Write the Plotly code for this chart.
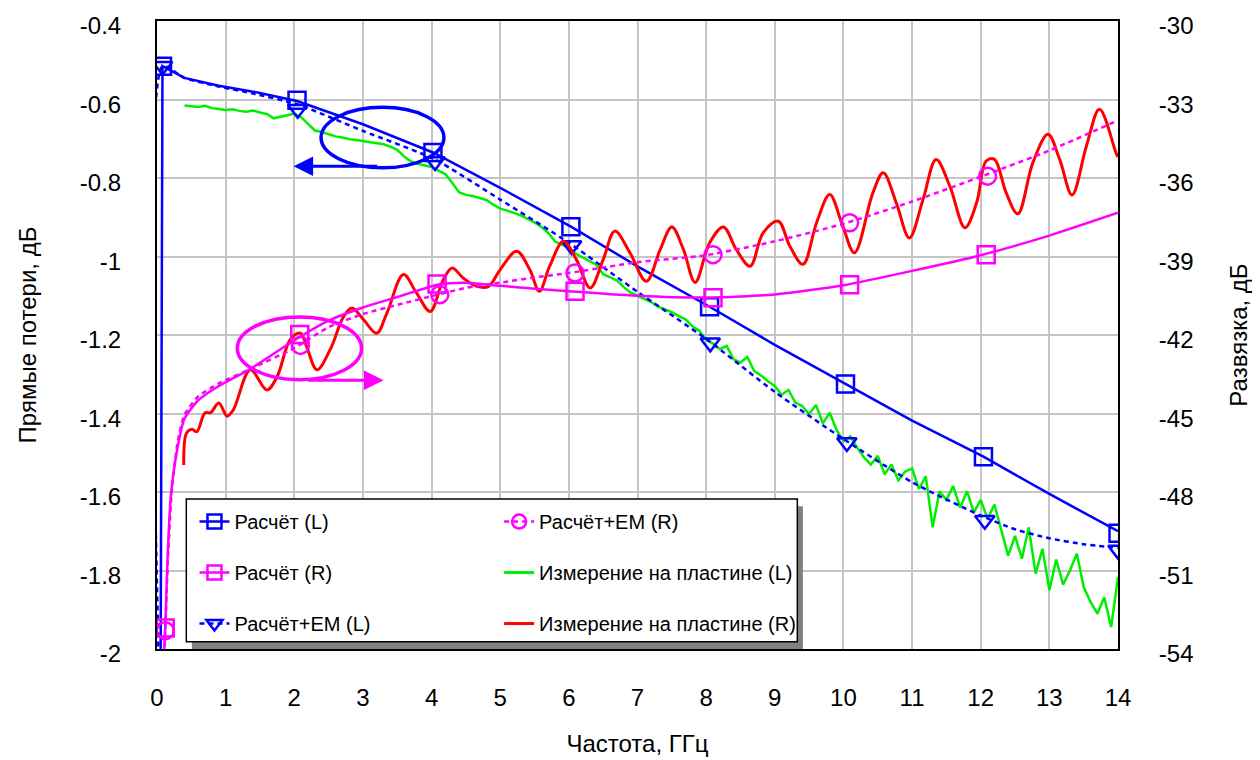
import plotly.graph_objects as go

# ---------------- data ----------------
# Расчёт (L) — left axis, dB
calc_L_x = [0.05, 0.08, 0.4, 0.9, 1.4, 2.04, 3.0, 4.02, 5.0, 6.03, 7.0, 8.05, 9.0, 10.03, 11.0, 12.04, 13.0, 14.0]
calc_L_y = [-2.2, -0.515, -0.545, -0.565, -0.58, -0.604, -0.663, -0.735, -0.825, -0.924, -1.025, -1.128, -1.225, -1.325, -1.418, -1.51, -1.605, -1.70]
calc_L_mx = [0.08, 2.04, 4.02, 6.03, 8.05, 10.03, 12.04, 14.0]
calc_L_my = [-0.515, -0.602, -0.735, -0.924, -1.128, -1.325, -1.51, -1.705]

# Расчёт+EM (L)
em_L_x = [0.05, 0.08, 0.4, 0.9, 1.4, 2.04, 3.0, 4.04, 5.0, 6.0, 7.0, 8.0, 9.0, 10.0, 11.0, 12.0, 12.5, 13.0, 13.5, 14.0]
em_L_y = [-2.2, -0.515, -0.545, -0.567, -0.585, -0.612, -0.68, -0.752, -0.855, -0.965, -1.09, -1.21, -1.345, -1.465, -1.575, -1.66, -1.695, -1.718, -1.733, -1.742]
em_L_mx = [0.08, 2.05, 4.05, 6.04, 8.06, 10.05, 12.06, 14.0]
em_L_my = [-0.515, -0.625, -0.758, -0.972, -1.22, -1.474, -1.672, -1.748]

# Расчёт (R) — right axis, dB
calc_R_x = [0.05, 0.12, 0.15, 0.2, 0.3, 0.4, 0.6, 0.9, 1.36, 2.0, 2.5, 3.0, 3.5, 4.1, 4.5, 5.0, 6.0, 7.0, 8.0, 9.0, 10.0, 11.0, 12.0, 13.0, 14.0]
calc_R_y = [-57.0, -53.2, -50.8, -48.2, -46.3, -45.2, -44.5, -43.95, -43.3, -42.2, -41.45, -40.95, -40.55, -40.07, -40.0, -40.12, -40.33, -40.5, -40.57, -40.45, -40.1, -39.55, -38.95, -38.2, -37.33]
calc_R_mx = [0.12, 2.08, 4.08, 6.09, 8.1, 10.09, 12.08]
calc_R_my = [-53.2, -41.98, -40.05, -40.33, -40.58, -40.08, -38.93]

# Расчёт+EM (R)
em_R_x = [0.05, 0.12, 0.16, 0.22, 0.3, 0.4, 0.6, 0.9, 1.36, 2.0, 2.5, 3.0, 3.5, 4.1, 4.5, 5.0, 5.5, 6.0, 7.0, 8.0, 9.0, 10.0, 11.0, 12.0, 13.0, 14.0]
em_R_y = [-57.0, -53.3, -50.5, -47.8, -46.1, -45.05, -44.35, -43.85, -43.3, -42.5, -41.7, -41.2, -40.85, -40.45, -40.2, -40.0, -39.8, -39.63, -39.22, -38.95, -38.42, -37.75, -36.9, -35.95, -34.95, -33.8]
em_R_mx = [0.12, 2.09, 4.12, 6.09, 8.1, 10.09, 12.1]
em_R_my = [-53.3, -42.4, -40.46, -39.63, -38.93, -37.71, -35.93]

# Измерение на пластине (L) — 0.4 ... 14.0 GHz, step 0.1
meas_L_x = [round(0.4 + 0.1 * i, 1) for i in range(137)]
meas_L_y = [
    -0.615, -0.617, -0.619, -0.616, -0.622, -0.624, -0.627, -0.625, -0.629, -0.631, -0.628, -0.633, -0.637, -0.648, -0.643, -0.640,
    -0.636, -0.645, -0.662, -0.679, -0.683, -0.688, -0.694, -0.697, -0.701, -0.703,
    -0.706, -0.709, -0.712, -0.714, -0.720, -0.728, -0.745, -0.758, -0.764, -0.769,
    -0.772, -0.781, -0.790, -0.812, -0.836, -0.843, -0.846, -0.851, -0.856, -0.868,
    -0.878, -0.883, -0.889, -0.895, -0.904, -0.913, -0.925, -0.940, -0.962, -0.971,
    -0.978, -0.993, -1.002, -1.012, -1.021, -1.045, -1.052, -1.061, -1.078, -1.092,
    -1.100, -1.108, -1.116, -1.128, -1.135, -1.142, -1.152, -1.160, -1.178, -1.189,
    -1.212, -1.222, -1.236, -1.228, -1.262, -1.270, -1.256, -1.292, -1.303, -1.318,
    -1.330, -1.352, -1.340, -1.372, -1.381, -1.402, -1.378, -1.425, -1.398, -1.442,
    -1.470, -1.458, -1.487, -1.512, -1.530, -1.508, -1.555, -1.530, -1.570, -1.548,
    -1.540, -1.592, -1.560, -1.690, -1.598, -1.620, -1.585, -1.640, -1.598, -1.652,
    -1.620, -1.668, -1.632, -1.700, -1.762, -1.712, -1.770, -1.690, -1.808, -1.745,
    -1.850, -1.772, -1.836, -1.800, -1.757, -1.842, -1.880, -1.910, -1.868, -1.944,
    -1.817,
]

# Измерение на пластине (R)
meas_R_x = [0.39, 0.43, 0.51, 0.58, 0.70, 0.78, 0.90, 1.02, 1.11, 1.36, 1.60, 1.75, 1.94, 2.09, 2.18, 2.33, 2.52, 2.72, 2.84,
            3.01, 3.20, 3.35, 3.59, 3.78, 3.98, 4.17, 4.30, 4.46, 4.66, 4.83, 5.0, 5.24, 5.43, 5.57, 5.72, 5.92, 6.11, 6.31,
            6.50, 6.67, 6.89, 7.13, 7.33, 7.50, 7.67, 7.84, 8.05, 8.25, 8.44, 8.64, 8.83, 9.05, 9.22, 9.41, 9.61, 9.80, 9.99,
            10.16, 10.43, 10.58, 10.77, 10.96, 11.16, 11.35, 11.55, 11.77, 11.94, 12.08, 12.20, 12.37, 12.54, 12.76, 12.98,
            13.15, 13.33, 13.54, 13.73, 13.97, 14.0]
meas_R_y = [-46.97, -45.75, -45.6, -45.7, -44.97, -44.97, -44.6, -45.1, -44.87, -43.33, -44.1, -43.59, -42.18, -41.93, -42.44,
            -43.33, -42.57, -41.29, -40.97, -41.42, -41.93, -41.16, -39.69, -40.39, -41.1, -39.89, -39.44, -39.82, -40.14,
            -40.14, -39.5, -38.8, -39.5, -40.33, -39.37, -38.42, -39.12, -40.2, -39.12, -38.03, -38.86, -39.95, -38.74,
            -37.87, -38.74, -39.99, -38.48, -37.87, -38.74, -39.37, -38.1, -37.65, -38.61, -39.3, -37.7, -36.63, -37.84,
            -38.86, -36.56, -35.80, -36.95, -38.29, -36.82, -35.29, -36.31, -37.9, -36.95, -35.35, -35.29, -36.56, -37.37,
            -35.41, -34.33, -35.29, -36.65, -34.78, -33.37, -35.03, -35.2]

left_ticks = [-2.0, -1.8, -1.6, -1.4, -1.2, -1.0, -0.8, -0.6, -0.4]
left_tick_text = ["-2", "-1.8", "-1.6", "-1.4", "-1.2", "-1", "-0.8", "-0.6", "-0.4"]
right_ticks = [-54, -51, -48, -45, -42, -39, -36, -33, -30]
right_tick_text = ["-54", "-51", "-48", "-45", "-42", "-39", "-36", "-33", "-30"]
x_ticks = list(range(0, 15))

names = ["Расчёт (L)", "Расчёт (R)", "Расчёт+EM (L)", "Расчёт+EM (R)",
         "Измерение на пластине (L)", "Измерение на пластине (R)"]

# ---------------- styles ----------------
BLUE = "#0000ff"
MAG = "#ff00ff"
GREEN = "#00ee00"
RED = "#ff0000"
FONT = "Liberation Sans, Arial, sans-serif"
DOT = "5px,4px"
MS = 17

fig = go.Figure()

# measured
fig.add_trace(go.Scatter(x=meas_L_x, y=meas_L_y, mode="lines", line=dict(color=GREEN, width=2.5),
                         showlegend=False, yaxis="y"))
fig.add_trace(go.Scatter(x=meas_R_x, y=meas_R_y, mode="lines", line=dict(color=RED, width=3, shape="spline", smoothing=1.0),
                         showlegend=False, yaxis="y2"))

# calc lines
fig.add_trace(go.Scatter(x=calc_R_x, y=calc_R_y, mode="lines", line=dict(color=MAG, width=2.5, shape="spline", smoothing=0.6),
                         showlegend=False, yaxis="y2"))
fig.add_trace(go.Scatter(x=em_R_x, y=em_R_y, mode="lines", line=dict(color=MAG, width=2.5, dash=DOT, shape="spline", smoothing=0.6),
                         showlegend=False, yaxis="y2"))
fig.add_trace(go.Scatter(x=calc_L_x, y=calc_L_y, mode="lines", line=dict(color=BLUE, width=2.5),
                         showlegend=False, yaxis="y"))
fig.add_trace(go.Scatter(x=em_L_x, y=em_L_y, mode="lines", line=dict(color=BLUE, width=2.5, dash=DOT, shape="spline", smoothing=0.6),
                         showlegend=False, yaxis="y"))

# markers
def mk(sym, col, size=MS):
    return dict(symbol=sym, size=size, color=col, line=dict(color=col, width=2.5))

fig.add_trace(go.Scatter(x=calc_R_mx, y=calc_R_my, mode="markers", marker=mk("square-open", MAG), showlegend=False, yaxis="y2"))
fig.add_trace(go.Scatter(x=em_R_mx, y=em_R_my, mode="markers", marker=mk("circle-open", MAG), showlegend=False, yaxis="y2"))
fig.add_trace(go.Scatter(x=calc_L_mx, y=calc_L_my, mode="markers", marker=mk("square-open", BLUE), showlegend=False, yaxis="y"))
fig.add_trace(go.Scatter(x=em_L_mx, y=em_L_my, mode="markers", marker=mk("triangle-down-open", BLUE), showlegend=False, yaxis="y"))

# legend entries
leg_specs = [
    (names[0], "legend", dict(color=BLUE, width=2.5), mk("square-open", BLUE, 14), "lines+markers"),
    (names[1], "legend", dict(color=MAG, width=2.5), mk("square-open", MAG, 14), "lines+markers"),
    (names[2], "legend", dict(color=BLUE, width=2.5, dash=DOT), mk("triangle-down-open", BLUE, 14), "lines+markers"),
    (names[3], "legend2", dict(color=MAG, width=2.5, dash=DOT), mk("circle-open", MAG, 14), "lines+markers"),
    (names[4], "legend2", dict(color=GREEN, width=3), None, "lines"),
    (names[5], "legend2", dict(color=RED, width=3), None, "lines"),
]
for i, (nm, lg, ln, mkr, md) in enumerate(leg_specs):
    kw = dict(x=[None], y=[None], mode=md, name=nm, line=ln, legend=lg, legendgroup="g%d" % i,
              legendrank=i + 1, showlegend=True)
    if mkr is not None:
        kw["marker"] = mkr
    fig.add_trace(go.Scatter(**kw))

# ---------------- layout ----------------
axis_common = dict(showline=True, linecolor="black", linewidth=2, ticks="", zeroline=False,
                   tickfont=dict(family=FONT, size=24, color="black"))

legend_common = dict(bgcolor="rgba(0,0,0,0)", borderwidth=0, traceorder="grouped", tracegroupgap=22,
                     font=dict(family=FONT, size=20, color="black"), xanchor="left", yanchor="top",
                     itemclick=False, itemdoubleclick=False)

# legend box geometry in paper coords
box_x0, box_x1, box_y0, box_y1 = 0.0305, 0.6663, 0.0116, 0.2389
sh_dx, sh_dy = 0.0058, 0.0116

fig.update_layout(
    width=1260, height=760,
    paper_bgcolor="white", plot_bgcolor="white",
    margin=dict(l=149, r=150, t=13, b=119, autoexpand=False),
    font=dict(family=FONT, color="black"),
    xaxis=dict(range=[0, 14], tickvals=x_ticks, showgrid=True, gridcolor="#c4c4c4", gridwidth=2, mirror=True,
               ticklabelstandoff=26,
               title=dict(text="Частота, ГГц", font=dict(family=FONT, size=24), standoff=25), **axis_common),
    yaxis=dict(range=[-2, -0.4], tickvals=left_ticks, ticktext=left_tick_text, showgrid=True, gridcolor="#c4c4c4",
               gridwidth=2, mirror=True, ticklabelstandoff=29, ticklabelshift=5,
               title=dict(text="Прямые потери, дБ", font=dict(family=FONT, size=24), standoff=36), **axis_common),
    yaxis2=dict(range=[-54, -30], tickvals=right_ticks, ticktext=right_tick_text, overlaying="y", side="right",
                showgrid=False, ticklabelstandoff=34, ticklabelshift=5,
                title=dict(text="Развязка, дБ", font=dict(family=FONT, size=24), standoff=38), **axis_common),
    legend=dict(x=0.039, y=0.234, **legend_common),
    legend2=dict(x=0.356, y=0.234, **legend_common),
    shapes=[
        dict(type="rect", xref="paper", yref="paper", x0=box_x0 + sh_dx, x1=box_x1 + sh_dx,
             y0=box_y0 - sh_dy, y1=box_y1 - sh_dy, fillcolor="#808080", line=dict(width=0), layer="above"),
        dict(type="rect", xref="paper", yref="paper", x0=box_x0, x1=box_x1, y0=box_y0, y1=box_y1,
             fillcolor="white", line=dict(color="black", width=1.5), layer="above"),
        dict(type="circle", xref="x", yref="y", x0=2.39, x1=4.18, y0=-0.774, y1=-0.62,
             line=dict(color=BLUE, width=3.5), layer="above"),
        dict(type="circle", xref="x", yref="y", x0=1.17, x1=2.98, y0=-1.314, y1=-1.154,
             line=dict(color=MAG, width=3.5), layer="above"),
    ],
    annotations=[
        dict(x=1.99, y=-0.77, ax=3.23, ay=-0.77, xref="x", yref="y", axref="x", ayref="y", text="",
             showarrow=True, arrowhead=2, arrowsize=1.3, arrowwidth=3, arrowcolor=BLUE),
        dict(x=3.30, y=-1.315, ax=2.18, ay=-1.315, xref="x", yref="y", axref="x", ayref="y", text="",
             showarrow=True, arrowhead=2, arrowsize=1.3, arrowwidth=3, arrowcolor=MAG),
    ],
)

fig.write_html("out.html")
